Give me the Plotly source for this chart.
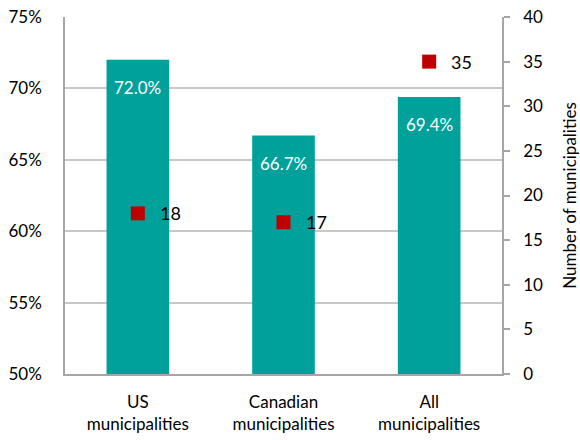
import plotly.graph_objects as go

categories = ["US<br>municipalities", "Canadian<br>municipalities", "All<br>municipalities"]
pct_values = [72.0, 66.7, 69.4]
count_values = [18, 17, 35]
left_ticks = [50, 55, 60, 65, 70, 75]
left_tick_labels = ["50%", "55%", "60%", "65%", "70%", "75%"]
right_ticks = [0, 5, 10, 15, 20, 25, 30, 35, 40]

FONT = "Lato, Carlito, Calibri, sans-serif"
TEAL = "#00A19B"
RED = "#C00000"
GRID = "#C8C8C8"
AXIS = "#A6A6A6"

fig = go.Figure()
fig.add_trace(go.Bar(
    x=categories, y=pct_values, marker=dict(color=TEAL, line=dict(width=0)),
    width=0.43, hoverinfo="skip", showlegend=False,
))
fig.add_trace(go.Scatter(
    x=categories, y=count_values, yaxis="y2", mode="markers",
    marker=dict(symbol="square", size=14, color=RED), showlegend=False,
))

annotations = []
for c, v in zip(categories, pct_values):
    annotations.append(dict(x=c, y=v, xref="x", yref="y", text=f"{v:.1f}%",
                            showarrow=False, yshift=-28,
                            font=dict(family=FONT, size=17, color="white")))
for c, n in zip(categories, count_values):
    annotations.append(dict(x=c, y=n, xref="x", yref="y2", text=str(n),
                            showarrow=False, xanchor="left", xshift=20,
                            font=dict(family=FONT, size=18, color="black")))

fig.update_layout(
    width=580, height=440,
    margin=dict(l=65, r=78, t=17, b=66),
    paper_bgcolor="white", plot_bgcolor="white",
    font=dict(family=FONT, size=17, color="black"),
    xaxis=dict(showgrid=False, showline=True, linecolor=AXIS, linewidth=1.5,
               ticks="", tickfont=dict(size=17), automargin=False,
               ticklabelstandoff=12),
    yaxis=dict(range=[50, 75], tickvals=left_ticks, ticktext=left_tick_labels,
               showgrid=True, gridcolor=GRID, gridwidth=1.5,
               showline=True, linecolor=AXIS, linewidth=1.5, ticks="",
               zeroline=False, tickfont=dict(size=17), ticklabelstandoff=18,
               automargin=False),
    yaxis2=dict(range=[0, 40], tickvals=right_ticks, overlaying="y", side="right",
                showgrid=False, showline=True, linecolor=AXIS, linewidth=1.5,
                ticks="outside", ticklen=6, tickcolor=AXIS, tickwidth=1.5,
                zeroline=False, tickfont=dict(size=17), ticklabelstandoff=10,
                automargin=False,
                title=dict(text="Number of municipalities", font=dict(size=17), standoff=28)),
    annotations=annotations,
)

fig.write_html("out.html", config={"displayModeBar": False},
               post_script="document.body.style.margin='0';")
